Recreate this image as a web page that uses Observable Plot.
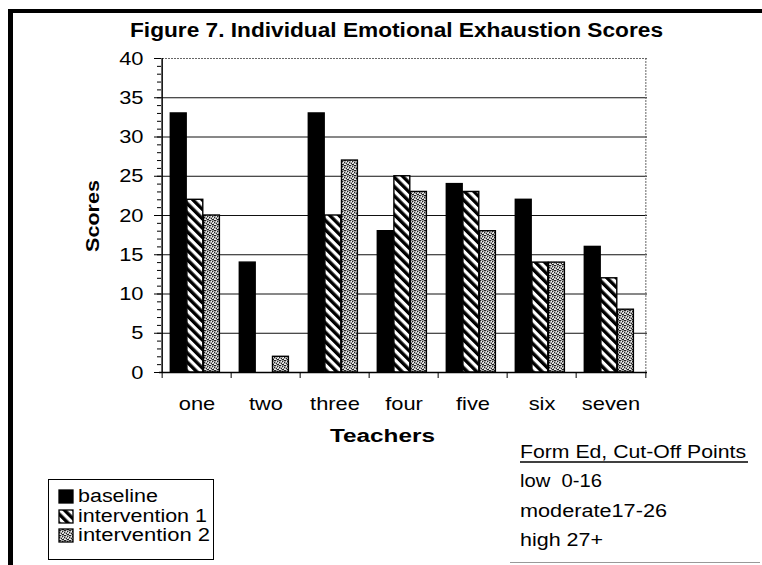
<!DOCTYPE html>
<html><head><meta charset="utf-8">
<script src="https://cdn.jsdelivr.net/npm/d3@7"></script>
<script src="https://cdn.jsdelivr.net/npm/@observablehq/plot@0.6"></script>
<style>
body{margin:0;background:#fff;}
#wrap{position:relative;width:762px;height:565px;overflow:hidden;}
</style></head><body><div id="wrap"></div>
<script>
// ---- data ----
const teachers = ["one", "two", "three", "four", "five", "six", "seven"];
const seriesNames = ["baseline", "intervention 1", "intervention 2"];
const baseline = [33, 14, 33, 18, 24, 22, 16];
const intervention1 = [22, 0, 20, 25, 23, 14, 12];
const intervention2 = [20, 2, 27, 23, 18, 14, 8];
const yTicks = [0, 5, 10, 15, 20, 25, 30, 35, 40];
const titleText = "Figure 7. Individual Emotional Exhaustion Scores";
const yTitle = "Scores";
const xTitle = "Teachers";
const cutoffTitle = "Form Ed, Cut-Off Points";
const cutoffLines = ["low  0-16", "moderate17-26", "high 27+"];

// ---- layout ----
const W = 762, H = 565, mL = 159, mR = 115, mT = 58, mB = 193;
const plotW = W - mL - mR;
const step = plotW / teachers.length;
const gap0 = 8.3, bw = 16.6;
const FONT = '"Liberation Sans", Arial, sans-serif';
const fills = {"baseline": "#000", "intervention 1": "url(#pStripe)", "intervention 2": "url(#pStipple)"};
const seriesValues = [baseline, intervention1, intervention2];
const rows = seriesNames.flatMap((s, k) => teachers.map((t, i) => ({teacher: t, series: s, value: seriesValues[k][i]})));
const minorTicks = d3.range(0, 41);

const barMarks = seriesNames.map((s, k) => Plot.barY(rows.filter(d => d.series === s), {
  x: "teacher", y: "value", fill: fills[s], stroke: "#000", strokeWidth: 1.4,
  insetLeft: gap0 + k * bw, insetRight: step - gap0 - (k + 1) * bw
}));

const chart = Plot.plot({
  width: W, height: H,
  marginLeft: mL, marginRight: mR, marginTop: mT, marginBottom: mB,
  style: {fontFamily: FONT, fontSize: "19px", color: "#000", background: "transparent", overflow: "visible"},
  x: {domain: teachers, padding: 0, tickSize: 0, tickPadding: 24, label: null},
  y: {domain: [0, 40], ticks: yTicks, tickSize: 5, tickPadding: 11, label: null},
  marks: [
    Plot.ruleY(yTicks.filter(v => v > 0 && v < 40), {y: d => d, stroke: "#111", strokeWidth: 1}),
    Plot.ruleY(yTicks.filter(v => v === 40), {y: d => d, stroke: "#666", strokeDasharray: "2,1"}),
    Plot.ruleX(teachers.slice(-1), {x: d => d, dx: step / 2, stroke: "#666", strokeDasharray: "2,1"}),
    ...barMarks,
    Plot.ruleX(teachers.slice(0, 1), {x: d => d, dx: -step / 2, stroke: "#000", strokeWidth: 1.5}),
    Plot.ruleY([0], {stroke: "#000", strokeWidth: 1.5}),
    Plot.ruleX(teachers, {x: d => d, dx: -step / 2, y1: 0, y2: 0, insetBottom: -6, stroke: "#000"}),
    Plot.ruleX(teachers.slice(-1), {x: d => d, dx: step / 2, y1: 0, y2: 0, insetBottom: -6, stroke: "#000"}),
    Plot.ruleY(minorTicks, {y: d => d, insetLeft: -2, insetRight: plotW - 2, stroke: "#000"})
  ]
});

document.getElementById("wrap").append(chart);
const svg = d3.select(chart);

// widen the axis tick labels to match the scanned lettering
svg.selectAll("text").each(function() {
  const L = this.getComputedTextLength();
  if (L > 0) { this.setAttribute("textLength", L * 1.15); this.setAttribute("lengthAdjust", "spacingAndGlyphs"); }
});

// fill patterns
const defs = svg.insert("defs", ":first-child");
const ps = defs.append("pattern").attr("id", "pStripe").attr("patternUnits", "userSpaceOnUse")
  .attr("width", 6.6).attr("height", 6.6).attr("patternTransform", "rotate(-45)");
ps.append("rect").attr("width", 6.6).attr("height", 6.6).attr("fill", "#fff");
ps.append("rect").attr("width", 3.4).attr("height", 6.6).attr("fill", "#000");
const pt = defs.append("pattern").attr("id", "pStipple").attr("patternUnits", "userSpaceOnUse")
  .attr("width", 5).attr("height", 5);
pt.append("rect").attr("width", 5).attr("height", 5).attr("fill", "#a6a6a6");
[[0,0],[2,1],[4,2],[1,3],[3,4],[4,0],[2,4]].forEach(([a,b]) => pt.append("rect").attr("x", a).attr("y", b).attr("width", 1).attr("height", 1).attr("fill", "#222"));
[[1,1],[3,2],[0,4],[2,3],[4,4]].forEach(([a,b]) => pt.append("rect").attr("x", a).attr("y", b).attr("width", 1).attr("height", 1).attr("fill", "#f2f2f2"));

// annotation helper
const ann = svg.append("g").attr("font-family", FONT).attr("fill", "#000").attr("text-anchor", "start");
function addText(txt, x, y, {size = 17, bold = false, len = null, rotate = 0} = {}) {
  const t = ann.append("text").text(txt).attr("font-size", size).attr("font-weight", bold ? "bold" : "normal")
    .attr("text-anchor", "start").style("white-space", "pre");
  if (rotate) t.attr("transform", `translate(${x},${y}) rotate(${rotate})`);
  else t.attr("x", x).attr("y", y);
  if (len) t.attr("textLength", len).attr("lengthAdjust", "spacingAndGlyphs");
  return t;
}

// outer frame
ann.append("line").attr("x1", 10.5).attr("x2", 10.5).attr("y1", 9).attr("y2", H).attr("stroke", "#000").attr("stroke-width", 5);
ann.append("line").attr("x1", 8).attr("x2", W).attr("y1", 11).attr("y2", 11).attr("stroke", "#000").attr("stroke-width", 4);
ann.append("line").attr("x1", 510).attr("x2", 760).attr("y1", 562.5).attr("y2", 562.5).attr("stroke", "#999").attr("stroke-width", 1);

// titles
addText(titleText, 130, 37, {size: 20, bold: true, len: 533});
addText(yTitle, 99, 252, {size: 18, bold: true, len: 72, rotate: -90});
addText(xTitle, 330, 442, {size: 18, bold: true, len: 105});

// legend
ann.append("rect").attr("x", 48.5).attr("y", 479.5).attr("width", 165).attr("height", 80)
  .attr("fill", "#fff").attr("stroke", "#000").attr("stroke-width", 1);
const legBase = [502, 522, 541];
const legLen = [80, 129, 132];
seriesNames.forEach((s, k) => {
  ann.append("rect").attr("x", 59).attr("y", legBase[k] - 12).attr("width", 14).attr("height", 13)
    .attr("fill", fills[s]).attr("stroke", "#000").attr("stroke-width", 1.3);
  addText(s, 78, legBase[k], {size: 18, len: legLen[k]});
});

// cut-off notes
addText(cutoffTitle, 520, 458, {size: 17.5, len: 226});
ann.append("line").attr("x1", 520).attr("x2", 748).attr("y1", 462).attr("y2", 462).attr("stroke", "#000").attr("stroke-width", 1.5);
const noteBase = [487, 517, 546];
const noteLen = [82, 147, 83];
cutoffLines.forEach((s, k) => addText(s, 520, noteBase[k], {size: 17.5, len: noteLen[k]}));
</script>
</body></html>
